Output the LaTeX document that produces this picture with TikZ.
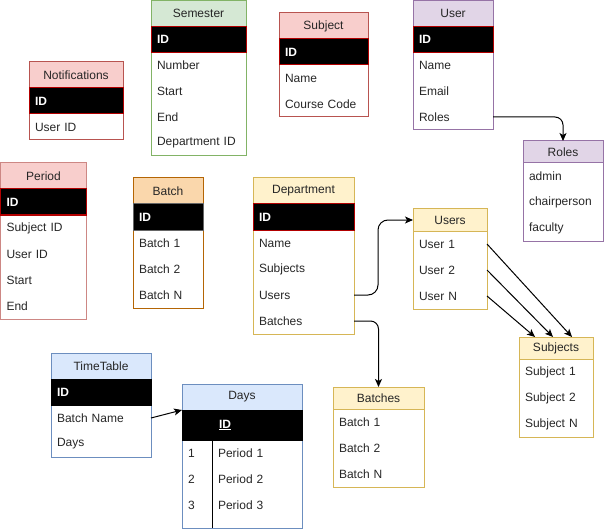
\documentclass[tikz,border=0pt]{standalone}
\usepackage{fontspec}
\setmainfont{Liberation Sans}
\usetikzlibrary{arrows.meta}
\definecolor{redfill}{HTML}{F8CECC}
\definecolor{redline}{HTML}{B85450}
\definecolor{greenfill}{HTML}{D5E8D4}
\definecolor{greenline}{HTML}{82B366}
\definecolor{purplefill}{HTML}{E1D5E7}
\definecolor{purpleline}{HTML}{9673A6}
\definecolor{orangefill}{HTML}{FAD7AC}
\definecolor{orangeline}{HTML}{B46504}
\definecolor{yellowfill}{HTML}{FFF2CC}
\definecolor{yellowline}{HTML}{D6B656}
\definecolor{bluefill}{HTML}{DAE8FC}
\definecolor{blueline}{HTML}{6C8EBF}
\definecolor{idline}{HTML}{B20000}
\definecolor{txt}{HTML}{262626}
\tikzset{
  hdr/.style={draw=#1, line width=1pt, anchor=north west, minimum height=26pt,
    inner sep=0pt, outer sep=0pt, text=txt},
  idrow/.style={draw=#1, line width=1pt, fill=black, text=white,
    font=\fontsize{12}{14}\selectfont\bfseries,
    anchor=north west, minimum height=26pt, inner xsep=6pt, inner ysep=0pt,
    outer sep=0pt, align=left},
  idrow/.default=idline,
  field/.style={anchor=north west, minimum height=26pt, inner xsep=6pt,
    inner ysep=0pt, outer sep=0pt, align=left, text=txt},
  frame/.style={draw=#1, line width=1pt},
  link/.style={-{Stealth[length=8pt,width=7pt,inset=2pt]}, line width=1pt},
}
\begin{document}
\begin{tikzpicture}[x=1pt,y=-1pt,font=\fontsize{12}{14}\selectfont]
\useasboundingbox (0,0) rectangle (604,529);
% Semester
\node[hdr=greenline, fill=greenfill, minimum width=95pt] (semester) at (151,0.5) {Semester};
\foreach \f [count=\i] in {Number,Start,End,Department ID}
  \node[field, text width=83pt] (semester-\i) at (151,{52+26*(\i-1)}) {\f};
\draw[frame=greenline] (semester.north west) rectangle (semester-4.south east);
\node[idrow, text width=83pt] (semester-id) at (semester.south west) {ID};
% Subject
\node[hdr=redline, fill=redfill, minimum width=89pt] (subject) at (279,13) {Subject};
\foreach \f [count=\i] in {Name,Course Code}
  \node[field, text width=77pt] (subject-\i) at (279,{65+26*(\i-1)}) {\f};
\draw[frame=redline] (subject.north west) rectangle (subject-2.south east);
\node[idrow, text width=77pt] (subject-id) at (subject.south west) {ID};
% User
\node[hdr=purpleline, fill=purplefill, minimum width=80pt] (user) at (413,0.5) {User};
\foreach \f [count=\i] in {Name,Email,Roles}
  \node[field, text width=68pt] (user-\i) at (413,{52+26*(\i-1)}) {\f};
\draw[frame=purpleline] (user.north west) rectangle (user-3.south east);
\node[idrow, text width=68pt] (user-id) at (user.south west) {ID};
% Roles
\node[hdr=purpleline, fill=purplefill, minimum width=80pt, minimum height=22pt] (roles) at (523,141) {Roles};
\foreach \f [count=\i] in {admin,chairperson,faculty}
  \node[field, text width=68pt] (roles-\i) at (523,{163+26*(\i-1)}) {\f};
\draw[frame=purpleline] (roles.north west) rectangle (roles-3.south east);
% Notifications
\node[hdr=redline, fill=redfill, minimum width=94pt] (notifications) at (29,62) {Notifications};
\node[field, text width=82pt] (notifications-1) at (29,114) {User ID};
\draw[frame=redline] (notifications.north west) rectangle (notifications-1.south east);
\node[idrow, text width=82pt] (notifications-id) at (notifications.south west) {ID};
% Period
\node[hdr=redline!70, fill=redfill, minimum width=86pt] (period) at (0.5,163) {Period};
\foreach \f [count=\i] in {Subject ID,User ID,Start,End}
  \node[field, text width=74pt] (period-\i) at (0.5,{215+26*(\i-1)}) {\f};
\draw[frame=redline!70] (period.north west) rectangle (period-4.south east);
\node[idrow, text width=74pt] (period-id) at (period.south west) {ID};
% Batch
\node[hdr=orangeline, fill=orangefill, minimum width=70pt] (batch) at (133,178) {Batch};
\foreach \f [count=\i] in {Batch 1,Batch 2,Batch N}
  \node[field, text width=58pt] (batch-\i) at (133,{230+26*(\i-1)}) {\f};
\draw[frame=orangeline] (batch.north west) rectangle (batch-3.south east);
\node[idrow=black!60, text width=58pt] (batch-id) at (batch.south west) {ID};
% Department
\node[hdr=yellowline, fill=yellowfill, minimum width=101pt] (department) at (253,178) {Department};
\foreach \f [count=\i] in {Name,Subjects,Users,Batches}
  \node[field, text width=89pt] (department-\i) at (253,{230+26*(\i-1)}) {\f};
\draw[frame=yellowline] (department.north west) rectangle (department-4.south east);
\node[idrow, text width=89pt] (department-id) at (department.south west) {ID};
% Users
\node[hdr=yellowline, fill=yellowfill, minimum width=74pt, minimum height=22pt] (users) at (413,209) {Users};
\foreach \f [count=\i] in {User 1,User 2,User N}
  \node[field, text width=62pt] (users-\i) at (413,{231+26*(\i-1)}) {\f};
\draw[frame=yellowline] (users.north west) rectangle (users-3.south east);
% Subjects
\node[hdr=yellowline, fill=yellowfill, minimum width=74pt, minimum height=22pt] (subjects) at (519,337) {Subjects};
\foreach \f [count=\i] in {Subject 1,Subject 2,Subject N}
  \node[field, text width=62pt] (subjects-\i) at (519,{359+26*(\i-1)}) {\f};
\draw[frame=yellowline] (subjects.north west) rectangle (subjects-3.south east);
% Batches
\node[hdr=yellowline, fill=yellowfill, minimum width=91pt, minimum height=22pt] (batches) at (333,387) {Batches};
\foreach \f [count=\i] in {Batch 1,Batch 2,Batch N}
  \node[field, text width=79pt] (batches-\i) at (333,{409+26*(\i-1)}) {\f};
\draw[frame=yellowline] (batches.north west) rectangle (batches-3.south east);
% TimeTable
\node[hdr=blueline, fill=bluefill, minimum width=100pt] (timetable) at (51,353) {TimeTable};
\foreach \f [count=\i] in {Batch Name,Days}
  \node[field, text width=88pt] (timetable-\i) at (51,{405+26*(\i-1)}) {\f};
\draw[frame=blueline] (timetable.north west) rectangle (timetable-2.south east);
\node[idrow=black, text width=88pt] (timetable-id) at (timetable.south west) {ID};
% Days
\node[hdr=blueline, fill=bluefill, minimum width=120pt] (days) at (182,384) {Days};
\foreach \n [count=\i] in {1,2,3} {
  \node[field, text width=18pt] (days-n\i) at (182,{440+26*(\i-1)}) {\n};
  \node[field, text width=78pt] (days-\i) at (212,{440+26*(\i-1)}) {Period \n};
}
\coordinate (days-end) at (302,528);
\draw[frame=blueline] (days.north west) rectangle (days-end);
\node[idrow=black, minimum height=30pt, text width=108pt] (days-id) at (days.south west) {\hspace*{31pt}\underline{ID}};
\draw[line width=1pt] (days-id.south -| days-n1.east) -- (days-n1.east |- days-end);
% links
\draw[link, rounded corners=8pt] (user-3.east) -| (roles.north);
\draw[link, rounded corners=10pt] (department-3.east) -- ++(24,0) |- (users.west);
\draw[link, rounded corners=8pt] (department-4.east) -| (batches.north);
\draw[link] (users-1.east) -- ([xshift=16pt]subjects.north);
\draw[link] (users-2.east) -- ([xshift=-3pt]subjects.north);
\draw[link] (users-3.east) -- ([xshift=-21pt]subjects.north);
\draw[link] (timetable-1.east) -- (days.south west);
\end{tikzpicture}
\end{document}
